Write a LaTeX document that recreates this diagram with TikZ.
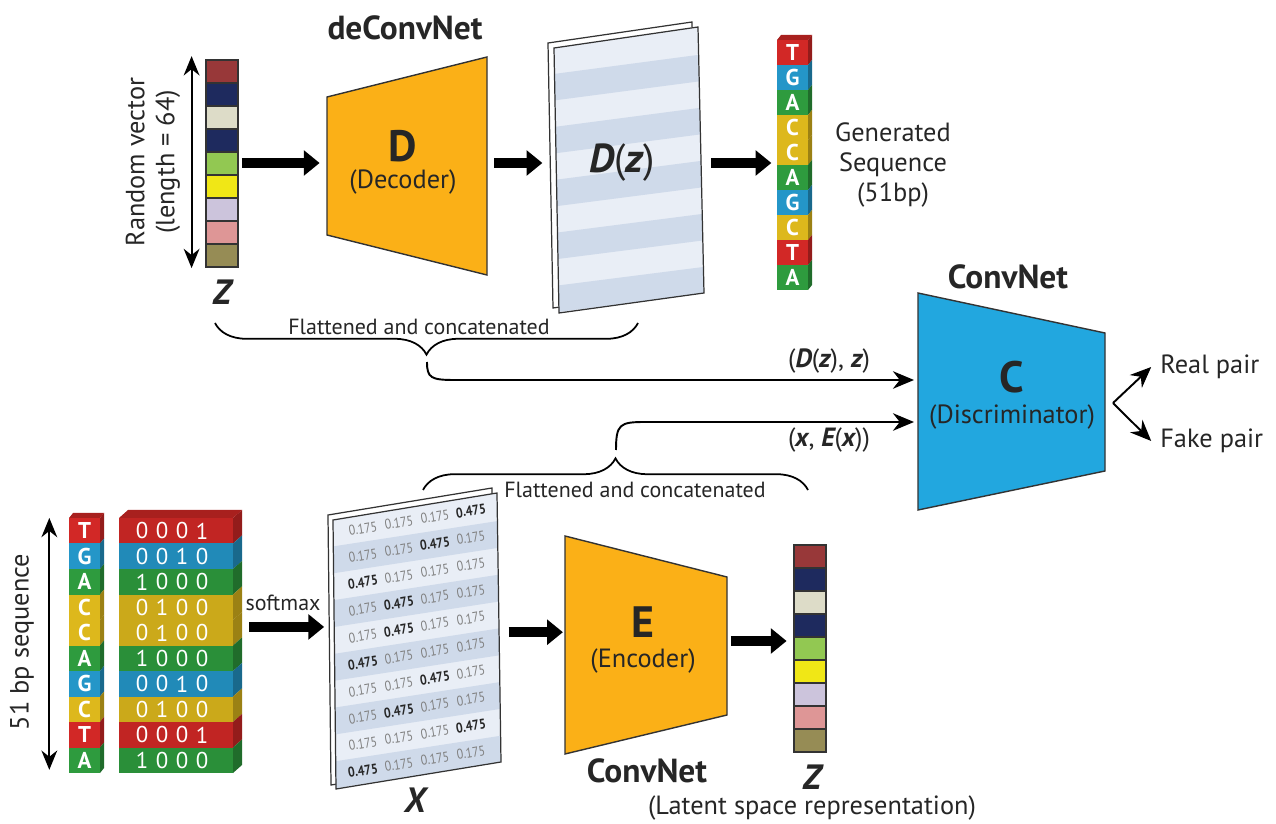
\documentclass[tikz,border=0pt]{standalone}
\usepackage{fontspec}
\setmainfont{PT Sans}
\newfontfamily\numfont[FakeStretch=0.85]{PT Sans}
\usetikzlibrary{arrows.meta,decorations.pathreplacing,fit}

\definecolor{decorange}{RGB}{251,176,23}
\definecolor{discblue}{RGB}{34,167,223}
\definecolor{zA}{RGB}{152,56,57}
\definecolor{zB}{RGB}{30,42,94}
\definecolor{zC}{RGB}{221,220,200}
\definecolor{zD}{RGB}{146,200,82}
\definecolor{zE}{RGB}{240,231,22}
\definecolor{zF}{RGB}{204,196,220}
\definecolor{zG}{RGB}{222,150,150}
\definecolor{zH}{RGB}{150,140,85}
\definecolor{ntT}{RGB}{210,40,38}
\definecolor{ntG}{RGB}{36,150,200}
\definecolor{ntA}{RGB}{46,155,62}
\definecolor{ntC}{RGB}{221,184,28}
\definecolor{sheetlt}{RGB}{233,238,246}
\definecolor{sheetdk}{RGB}{207,218,234}

\newcommand{\bivar}[1]{{\bfseries\itshape #1}}
\newcommand{\numcell}[2]{\ifnum#1=#2{\bfseries\color{black!85}0.475}\else{\color{black!50}0.175}\fi}

\tikzset{
  bigarrow/.style={line width=5.8pt,-{Triangle[length=9pt,width=14pt]}},
  thinarrow/.style={line width=1.1pt,-{Stealth[length=12pt,width=10pt]}},
  dblarrow/.style={line width=1.1pt,{Stealth[length=11pt,width=9pt]}-{Stealth[length=11pt,width=9pt]}},
  lbl/.style={font=\fontsize{15}{17}\selectfont,align=center,inner sep=0pt,text=black!85},
  small/.style={font=\fontsize{12.5}{14}\selectfont,inner sep=0pt,text=black!85},
  title/.style={font=\fontsize{19}{21}\selectfont\bfseries,inner sep=0pt,text=black!85},
  bigletter/.style={font=\fontsize{25}{27}\selectfont\bfseries,inner sep=0pt,text=black!85},
  varname/.style={font=\fontsize{20}{22}\selectfont\bfseries\itshape,inner sep=0pt,text=black!85},
  base/.style={font=\fontsize{13}{13}\selectfont\bfseries,text=white,inner sep=0pt},
  digit/.style={font=\fontsize{13}{13}\selectfont,text=white,inner sep=0pt},
  numrow/.style={font=\numfont\fontsize{8}{8}\selectfont,inner sep=0pt},
  block/.style={draw=black!80,line width=0.8pt},
  cell/.style={draw=black!80,line width=0.6pt},
  sheet/.style={draw=black!80,line width=0.7pt},
  box/.style={inner sep=0pt},
  bracestyle/.style={line width=1pt,decorate},
}

\begin{document}
\begin{tikzpicture}[x=0.02cm,y=-0.02cm]
  \useasboundingbox (0,0) rectangle (1276,824);

  % random vector z (top)
  \foreach \c [count=\i from 0] in {zA,zB,zC,zB,zD,zE,zF,zG,zH}
    \filldraw[cell,fill=\c] (206,{60+23*\i}) rectangle ++(32,23);
  \node[box,fit={(206,60) (238,266)}] (zin) {};
  \draw[dblarrow] ([shift={(-8pt,2pt)}]zin.north west) -- ([shift={(-8pt,-1pt)}]zin.south west);
  \node[lbl,rotate=90] (zlen) at (153,162) {Random vector\\(length = 64)};
  \node[varname] (zlbl) at (222,292) {Z};

  % decoder
  \filldraw[block,fill=decorange] (327,97) -- (487,57) -- (487,275) -- (327,235) -- cycle;
  \node[box,fit={(327,51) (487,275)}] (dec) {};
  \node[title] (dectitle) at (405,28) {deConvNet};
  \node[bigletter] (decD) at (403,146) {D};
  \node[lbl] (decname) at (403,182) {(Decoder)};
  \draw[bigarrow] ([xshift=2pt]zin.east) -- ([xshift=-4pt]dec.west);

  % D(z) sheet
  \filldraw[sheet,fill=white] (548,43) -- (692,22) -- (698,288) -- (553,308) -- cycle;
  \fill[sheetlt] (554,48) -- (698,27) -- (704,293) -- (559,313) -- cycle;
  \begin{scope}
    \clip (554,48) -- (698,27) -- (704,293) -- (559,313) -- cycle;
    \foreach \i in {1,3,5,7,9}
      \fill[sheetdk] (550,{48+26.5*\i}) -- (708,{27+26.6*\i}) -- (708,{27+26.6*(\i+1)}) -- (550,{48+26.5*(\i+1)}) -- cycle;
  \end{scope}
  \draw[sheet] (554,48) -- (698,27) -- (704,293) -- (559,313) -- cycle;
  \node[box,fit={(548,13) (704,313)}] (dz) {};
  \node[lbl,font=\fontsize{23}{25}\selectfont] (dzlbl) at (622,163) {\bivar{D}(\bivar{z})};
  \draw[bigarrow] ([xshift=4pt]dec.east) -- ([xshift=-3pt]dz.west);

  % generated sequence
  \foreach \b/\c [count=\i from 0] in {T/ntT,G/ntG,A/ntA,C/ntC,C/ntC,A/ntA,G/ntG,C/ntC,T/ntT,A/ntA} {
    \fill[\c] (777,{40+25*\i}) rectangle ++(31,25);
    \fill[\c!70!black] (808,{40+25*\i}) -- ++(4,-5) -- ++(0,25) -- ++(-4,5) -- cycle;
    \node[base] (gs\i) at (792.5,{52.5+25*\i}) {\b};
  }
  \fill[ntT!80!black] (777,40) -- ++(4,-5) -- ++(31,0) -- ++(-4,5) -- cycle;
  \node[box,fit={(777,35) (812,291)}] (gseq) {};
  \node[lbl] (gseqlbl) at (893,165) {Generated\\Sequence\\(51bp)};
  \draw[bigarrow] ([xshift=4pt]dz.east) -- ([xshift=-3pt]gseq.west);

  % discriminator
  \filldraw[block,fill=discblue] (918,293) -- (1105,333) -- (1105,471) -- (918,510) -- cycle;
  \node[box,fit={(918,293) (1105,510)}] (disc) {};
  \node[title] (disctitle) at (1008,277) {ConvNet};
  \node[bigletter] (discC) at (1012,377) {C};
  \node[lbl] (discname) at (1012,417) {(Discriminator)};
  \coordinate (dzin) at (914,380);
  \coordinate (xein) at (914,422);
  \coordinate (cout) at (1113,403);
  \node[lbl,anchor=west] (real) at (1160,367) {Real pair};
  \node[lbl,anchor=west] (fake) at (1160,441) {Fake pair};
  \draw[thinarrow] (cout) -- ([xshift=-5pt]real.west);
  \draw[thinarrow] (cout) -- ([xshift=-5pt]fake.west);

  % pairs into the discriminator
  \node[lbl] (dzpair) at (829,361) {(\bivar{D}(\bivar{z}), \bivar{z})};
  \node[lbl] (xepair) at (829,440) {(\bivar{x}, \bivar{E}(\bivar{x}))};
  \draw[bracestyle,decoration={brace,mirror,amplitude=18pt}] (215,323) -- (638,323);
  \node[small] (flat1) at (419,327) {Flattened and concatenated};
  \coordinate (ttip) at (427,362);
  \draw[thinarrow] (ttip) .. controls (427,378) and (431,380) .. (455,380) -- (dzin);
  \draw[bracestyle,decoration={brace,amplitude=18pt}] (423,490) -- (808,490);
  \node[small] (flat2) at (635,490) {Flattened and concatenated};
  \coordinate (btip) at (616,450);
  \draw[thinarrow] (btip) .. controls (616,424) and (620,422) .. (645,422) -- (xein);

  % 51 bp input sequence
  \foreach \b/\c [count=\i from 0] in {T/ntT,G/ntG,A/ntA,C/ntC,C/ntC,A/ntA,G/ntG,C/ntC,T/ntT,A/ntA} {
    \fill[\c] (69,{518+25.5*\i}) rectangle ++(31,25.5);
    \fill[\c!70!black] (100,{518+25.5*\i}) -- ++(4,-5) -- ++(0,25.5) -- ++(-4,5) -- cycle;
    \node[base] (bs\i) at (84.5,{530.75+25.5*\i}) {\b};
  }
  \fill[ntT!80!black] (69,518) -- ++(4,-5) -- ++(31,0) -- ++(-4,5) -- cycle;
  \node[box,fit={(69,513) (104,773)}] (bseq) {};
  \draw[dblarrow] ([shift={(-11pt,-3pt)}]bseq.north west) -- ([shift={(-11pt,2pt)}]bseq.south west);
  \node[lbl,rotate=90] (bseqlbl) at (22,642) {51 bp sequence};

  % one-hot bars
  \foreach \c/\da/\db/\dc/\dd [count=\i from 0] in {ntT/0/0/0/1,ntG/0/0/1/0,ntA/1/0/0/0,ntC/0/1/0/0,ntC/0/1/0/0,
      ntA/1/0/0/0,ntG/0/0/1/0,ntC/0/1/0/0,ntT/0/0/0/1,ntA/1/0/0/0} {
    \fill[\c!92!black] (119,{518+25.5*\i}) rectangle ++(114,25.5);
    \fill[\c!70!black] (233,{518+25.5*\i}) -- ++(9,-8) -- ++(0,25.5) -- ++(-9,8) -- cycle;
    \node[digit] (oh\i a) at (142,{531+25.5*\i}) {\da};
    \node[digit] (oh\i b) at (162,{531+25.5*\i}) {\db};
    \node[digit] (oh\i c) at (182,{531+25.5*\i}) {\dc};
    \node[digit] (oh\i d) at (202,{531+25.5*\i}) {\dd};
  }
  \fill[ntT!80!black] (119,518) -- ++(9,-8) -- ++(114,0) -- ++(-9,8) -- cycle;
  \node[box,fit={(119,509) (242,773)}] (onehot) {};

  % softmax sheet X
  \filldraw[sheet,fill=white] (328,515) -- (492,488) -- (496,758) -- (331,785) -- cycle;
  \fill[sheetlt] (333,520) -- (497,493) -- (501,762) -- (336,789) -- cycle;
  \begin{scope}
    \clip (333,520) -- (497,493) -- (501,762) -- (336,789) -- cycle;
    \foreach \i in {1,3,5,7,9}
      \fill[sheetdk] (330,{520+26.9*\i}) -- (505,{493+26.9*\i}) -- (505,{493+26.9*(\i+1)}) -- (330,{520+26.9*(\i+1)}) -- cycle;
  \end{scope}
  \draw[sheet] (333,520) -- (497,493) -- (501,762) -- (336,789) -- cycle;
  \foreach \p [count=\i from 0] in {4,3,1,2,2,1,3,2,4,1}
    \foreach \k in {1,...,4}
      \node[numrow,rotate=9.3] (xr\i-\k) at ({327+36*\k},{533.5+26.9*\i-0.165*(36*\k-6)}) {\numcell{\p}{\k}};
  \node[box,fit={(328,487) (503,795)}] (xsheet) {};
  \node[varname] (xlbl) at (415,800) {X};
  \node[small] (smax) at (283,603) {softmax};
  \draw[bigarrow] ([shift={(4pt,8pt)}]onehot.east) -- ([shift={(-2pt,8pt)}]xsheet.west);

  % encoder
  \filldraw[block,fill=decorange] (565,536) -- (727,577) -- (727,715) -- (565,754) -- cycle;
  \node[box,fit={(565,528) (727,754)}] (enc) {};
  \node[bigletter] (encE) at (643,622) {E};
  \node[lbl] (encname) at (643,661) {(Encoder)};
  \node[title] (enctitle) at (647,771) {ConvNet};
  \draw[bigarrow] ([shift={(3pt,5pt)}]xsheet.east) -- ([shift={(-1pt,5pt)}]enc.west);

  % latent vector z (bottom)
  \foreach \c [count=\i from 0] in {zA,zB,zC,zB,zD,zE,zF,zG,zH}
    \filldraw[cell,fill=\c] (794,{545+23*\i}) rectangle ++(32,23);
  \node[box,fit={(794,530) (826,752)}] (zout) {};
  \node[varname] (zoutlbl) at (812,777) {Z};
  \node[lbl] (latent) at (812,808) {(Latent space representation)};
  \draw[bigarrow] ([xshift=2pt]enc.east) -- ([xshift=-4pt]zout.west);
\end{tikzpicture}
\end{document}
